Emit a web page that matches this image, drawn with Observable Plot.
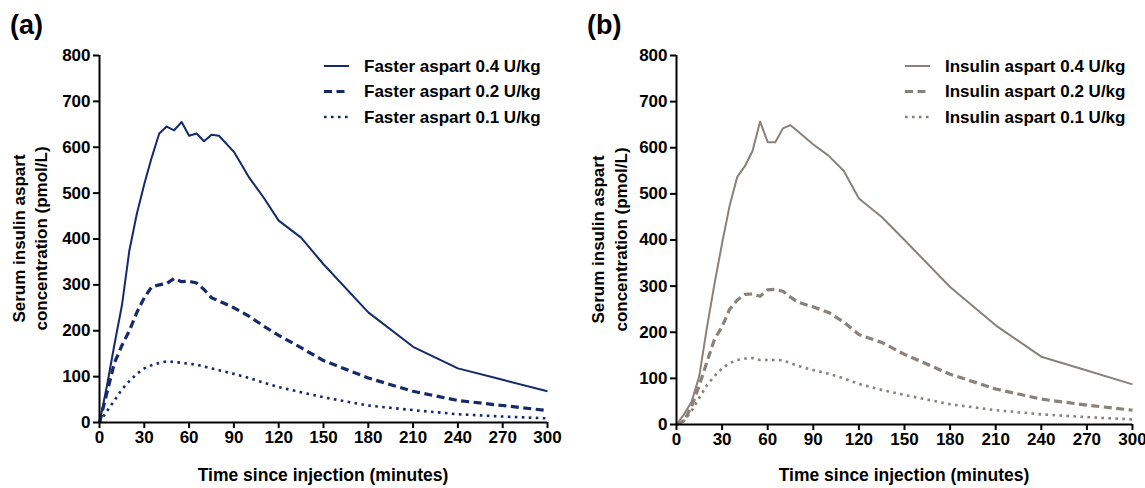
<!DOCTYPE html>
<html>
<head>
<meta charset="utf-8">
<script src="https://cdn.jsdelivr.net/npm/d3@7"></script>
<script src="https://cdn.jsdelivr.net/npm/@observablehq/plot@0.6"></script>
<style>
  html, body { margin: 0; padding: 0; background: #fff; }
  #row { display: flex; width: 1145px; height: 488px; }
  #row svg { display: block; overflow: visible; }
  #row svg text { font-family: "Liberation Sans", Arial, sans-serif; }
</style>
</head>
<body>
<div id="row"></div>
<script>
// Sampling times (minutes after injection)
const timeMin = [0, 5, 10, 15, 20, 25, 30, 35, 40, 45, 50, 55, 60, 65, 70, 75, 80,
                 90, 100, 110, 120, 135, 150, 180, 210, 240, 270, 300];

// Mean serum insulin aspart (pmol/L), faster aspart
const faster04 = [0, 80, 170, 255, 375, 455, 520, 578, 630, 645, 637, 655, 625, 630, 613, 627, 625,
                  590, 535, 490, 440, 403, 345, 240, 165, 118, 93, 68];
const faster02 = [0, 65, 130, 168, 200, 240, 272, 296, 300, 303, 314, 307, 308, 304, 290, 272, 265,
                  250, 232, 210, 190, 163, 135, 97, 68, 48, 37, 26];
const faster01 = [0, 25, 48, 72, 90, 106, 118, 125, 130, 133, 132, 130, 128, 126, 122, 118, 114,
                  106, 97, 87, 77, 66, 55, 37, 27, 18, 13, 9];

// Mean serum insulin aspart (pmol/L), insulin aspart
const aspart04 = [0, 22, 50, 105, 210, 305, 393, 475, 537, 560, 593, 657, 612, 612, 642, 649, 635,
                  607, 583, 550, 490, 450, 400, 298, 215, 147, 117, 87];
const aspart02 = [0, 8, 40, 85, 135, 185, 212, 250, 270, 282, 283, 278, 292, 293, 289, 276, 265,
                  255, 243, 222, 195, 178, 152, 109, 77, 55, 42, 31];
const aspart01 = [0, 8, 30, 58, 85, 105, 122, 133, 140, 143, 144, 140, 140, 140, 139, 133, 127,
                  118, 110, 100, 88, 75, 64, 44, 31, 22, 16, 11];

const fasterNames = ["Faster aspart 0.4 U/kg", "Faster aspart 0.2 U/kg", "Faster aspart 0.1 U/kg"];
const aspartNames = ["Insulin aspart 0.4 U/kg", "Insulin aspart 0.2 U/kg", "Insulin aspart 0.1 U/kg"];

const xTicks = [0, 30, 60, 90, 120, 150, 180, 210, 240, 270, 300];
const yTicks = [0, 100, 200, 300, 400, 500, 600, 700, 800];

const xTitle = "Time since injection (minutes)";
const yTitle = ["Serum insulin aspart", "concentration (pmol/L)"];

// Dose line styles: 0.4 solid, 0.2 dashed, 0.1 dotted
const lineStyles = [
  {strokeWidth: 2, strokeDasharray: null},
  {strokeWidth: 3.2, strokeDasharray: "8,4.5"},
  {strokeWidth: 2.6, strokeDasharray: "2.6,4.4"}
];

function rows(values) {
  return timeMin.map((t, i) => ({t, v: values[i]}));
}

function panel(cfg) {
  const series = cfg.series.map(rows);
  const plot = Plot.plot({
    width: cfg.width,
    height: 488,
    marginTop: 55,
    marginBottom: cfg.marginBottom,
    marginLeft: cfg.marginLeft,
    marginRight: cfg.marginRight,
    style: {
      color: "black", background: "white",
      fontFamily: "Liberation Sans, Arial, sans-serif",
      fontSize: "17px", fontWeight: "bold", overflow: "visible"
    },
    x: {domain: [0, 300]},
    y: {domain: [0, 800]},
    marks: [
      ...series.map((d, i) => Plot.line(d, {
        x: "t", y: "v",
        stroke: cfg.color,
        strokeWidth: lineStyles[i].strokeWidth,
        strokeDasharray: lineStyles[i].strokeDasharray,
        strokeLinecap: "butt",
        strokeLinejoin: "round"
      })),
      Plot.ruleX([0], {strokeWidth: 2, stroke: "black"}),
      Plot.ruleY([0], {strokeWidth: 2, stroke: "black"}),
      Plot.axisX(xTicks, {tickSize: 6, tickPadding: 2, fontSize: 17, fontWeight: "bold",
                          strokeWidth: 2, label: null}),
      Plot.axisY(yTicks, {tickSize: 6, tickPadding: 3, fontSize: 17, fontWeight: "bold",
                          strokeWidth: 2, label: null})
    ]
  });

  const svg = d3.select(plot);

  // Panel tag
  svg.append("text")
    .attr("x", cfg.tagX).attr("y", 34)
    .attr("text-anchor", "start")
    .attr("font-size", 27).attr("font-weight", "bold")
    .attr("fill", "black")
    .text(cfg.tag);

  // Y axis title (two lines)
  const plotMid = 55 + (488 - 55 - cfg.marginBottom) / 2;
  yTitle.forEach((line, i) => {
    svg.append("text")
      .attr("transform", `translate(${cfg.yTitleX[i]},${plotMid}) rotate(-90)`)
      .attr("dy", "0.35em")
      .attr("text-anchor", "middle")
      .attr("font-size", 17).attr("font-weight", "bold")
      .attr("fill", "black")
      .text(line);
  });

  // X axis title
  const xMid = cfg.marginLeft + (cfg.width - cfg.marginLeft - cfg.marginRight) / 2;
  svg.append("text")
    .attr("x", xMid).attr("y", 475).attr("dy", "0.35em")
    .attr("text-anchor", "middle")
    .attr("font-size", 17.5).attr("font-weight", "bold")
    .attr("fill", "black")
    .text(xTitle);

  // Legend
  const legendRows = [66, 91.5, 117];
  cfg.names.forEach((name, i) => {
    const y = legendRows[i];
    svg.append("line")
      .attr("x1", cfg.legendX).attr("x2", cfg.legendX + 25)
      .attr("y1", y).attr("y2", y)
      .attr("stroke", cfg.color)
      .attr("stroke-width", lineStyles[i].strokeWidth)
      .attr("stroke-dasharray", lineStyles[i].strokeDasharray)
      .attr("stroke-linecap", "butt");
    svg.append("text")
      .attr("x", cfg.legendX + 40).attr("y", y).attr("dy", "0.35em")
      .attr("text-anchor", "start")
      .attr("font-size", 17).attr("font-weight", "bold")
      .attr("fill", "black")
      .text(name);
  });

  return plot;
}

const row = document.getElementById("row");

row.appendChild(panel({
  tag: "(a)", tagX: 10,
  series: [faster04, faster02, faster01],
  names: fasterNames,
  color: "#15296b",
  width: 572, marginLeft: 99, marginRight: 25, marginBottom: 66,
  yTitleX: [19, 41],
  legendX: 324
}));

row.appendChild(panel({
  tag: "(b)", tagX: 15,
  series: [aspart04, aspart02, aspart01],
  names: aspartNames,
  color: "#8a817b",
  width: 573, marginLeft: 104, marginRight: 13, marginBottom: 64,
  yTitleX: [26, 49],
  legendX: 333
}));
</script>
</body>
</html>
